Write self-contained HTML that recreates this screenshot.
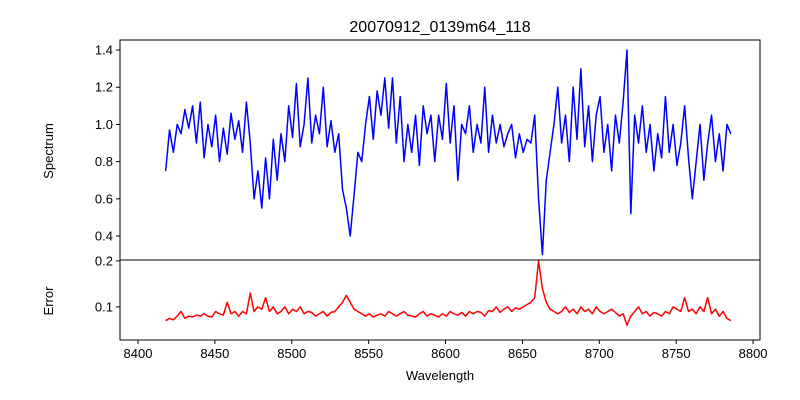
<!DOCTYPE html>
<html><head><meta charset="utf-8"><style>
html,body{margin:0;padding:0;background:#fff}
svg{display:block;font-family:"Liberation Sans","DejaVu Sans",sans-serif}
</style></head><body>
<svg id="chart" width="800" height="400" viewBox="0 0 800 400" xmlns="http://www.w3.org/2000/svg"></svg>
<script>
const wlStart = 8418;
const wlStep = 2.5;
const spectrum = [
0.75,0.97,0.85,1.0,0.95,1.08,0.98,1.1,0.9,1.12,
0.82,1.0,0.88,1.05,0.8,0.98,0.84,1.06,0.92,1.02,
0.85,1.12,0.9,0.6,0.75,0.55,0.82,0.6,0.92,0.7,
0.95,0.8,1.1,0.93,1.22,0.88,1.0,1.25,0.9,1.05,
0.95,1.2,0.88,1.02,0.85,0.95,0.65,0.55,0.4,0.62,
0.85,0.8,1.0,1.15,0.92,1.18,1.05,1.25,0.98,1.25,
0.9,1.15,0.8,1.0,0.85,1.05,0.78,1.1,0.95,1.05,
0.8,1.05,0.92,1.22,0.9,1.1,0.7,1.0,0.95,1.1,
0.85,1.0,0.9,1.2,0.85,1.05,0.9,1.0,0.88,0.95,
1.0,0.82,0.95,0.85,0.92,0.9,1.05,0.6,0.3,0.7,
0.85,1.0,1.2,0.9,1.05,0.8,1.2,0.92,1.3,0.88,
1.1,0.8,1.05,1.15,0.85,1.0,0.75,1.05,0.9,1.12,
1.4,0.52,1.05,0.9,1.1,0.85,1.0,0.75,0.95,0.82,
1.15,0.85,1.0,0.78,0.9,1.1,0.82,0.6,0.8,1.0,
0.7,0.9,1.05,0.8,0.95,0.75,1.0,0.95];
const errors = [
0.07,0.075,0.072,0.08,0.09,0.075,0.08,0.078,0.082,0.08,
0.085,0.08,0.078,0.09,0.085,0.082,0.11,0.085,0.09,0.08,
0.09,0.085,0.13,0.09,0.1,0.095,0.12,0.09,0.1,0.085,
0.09,0.1,0.085,0.095,0.09,0.1,0.085,0.09,0.088,0.08,
0.085,0.09,0.08,0.088,0.09,0.1,0.11,0.125,0.11,0.095,
0.09,0.085,0.08,0.085,0.078,0.082,0.085,0.08,0.09,0.085,
0.08,0.085,0.09,0.082,0.08,0.078,0.085,0.09,0.08,0.085,
0.082,0.078,0.085,0.08,0.09,0.085,0.082,0.088,0.08,0.09,
0.085,0.09,0.088,0.08,0.092,0.09,0.1,0.088,0.095,0.1,
0.09,0.098,0.095,0.1,0.105,0.11,0.12,0.2,0.14,0.11,
0.095,0.09,0.085,0.09,0.1,0.088,0.095,0.085,0.1,0.09,
0.095,0.085,0.1,0.09,0.085,0.09,0.095,0.088,0.08,0.085,
0.06,0.08,0.09,0.1,0.085,0.09,0.08,0.088,0.085,0.08,
0.09,0.085,0.1,0.095,0.09,0.12,0.09,0.095,0.085,0.1,
0.09,0.12,0.085,0.095,0.08,0.09,0.075,0.07];
const xTicks = [8400,8450,8500,8550,8600,8650,8700,8750,8800];
const specTicks = [0.4,0.6,0.8,1.0,1.2,1.4];
const errTicks = [0.1,0.2];

const svg = document.getElementById('chart');
const NS = 'http://www.w3.org/2000/svg';
function mk(tag, attrs, parent){ const e=document.createElementNS(NS,tag); for(const k in attrs) e.setAttribute(k,attrs[k]); (parent||svg).appendChild(e); return e; }
const L=120,R=760,T1=40,B1=260,T2=260,B2=340;
const xmin=8388.3,xmax=8804.5;
const sx = w => L+(w-xmin)/(xmax-xmin)*(R-L);
const s1min=0.271,s1max=1.454;
const sy1 = v => B1-(v-s1min)/(s1max-s1min)*(B1-T1);
const e2min=0.028,e2max=0.202;
const sy2 = v => B2-(v-e2min)/(e2max-e2min)*(B2-T2);

const t=mk('text',{x:440,y:32,'text-anchor':'middle','font-size':16});
t.textContent='20070912_0139m64_118';



function line(data, sy, color, name){
  const pts=data.map((v,i)=>sx(wlStart+wlStep*i).toFixed(2)+','+sy(v).toFixed(2)).join(' ');
  const p=mk('polyline',{points:pts,fill:'none',stroke:color,'stroke-width':1.5,'stroke-linejoin':'round'});
  
  
}
line(spectrum, sy1, '#0000ff', 'spectrum-line');
line(errors, sy2, '#ff0000', 'error-line');

const f1=mk('rect',{x:L,y:T1,width:R-L,height:B1-T1,fill:'none',stroke:'#000','stroke-width':1});


const f2=mk('rect',{x:L,y:T2,width:R-L,height:B2-T2,fill:'none',stroke:'#000','stroke-width':1});



specTicks.forEach(v=>{
  const y=sy1(v);
  mk('line',{x1:L-4,x2:L,y1:y,y2:y,stroke:'#000'});
  const tx=mk('text',{x:L-7,y:y+4.5,'text-anchor':'end','font-size':13});
  tx.textContent=v.toFixed(1);
  
  
});
errTicks.forEach(v=>{
  const y=sy2(v);
  mk('line',{x1:L-4,x2:L,y1:y,y2:y,stroke:'#000'});
  const tx=mk('text',{x:L-7,y:y+4.5,'text-anchor':'end','font-size':13});
  tx.textContent=v.toFixed(1);
  
  
});
xTicks.forEach(v=>{
  const x=sx(v);
  mk('line',{x1:x,x2:x,y1:B2,y2:B2+4,stroke:'#000'});
  const tx=mk('text',{x:x,y:B2+18,'text-anchor':'middle','font-size':13});
  tx.textContent=v;
  
  
});
const xl=mk('text',{x:440,y:380,'text-anchor':'middle','font-size':13});
xl.textContent='Wavelength';


const yl1=mk('text',{x:0,y:0,'text-anchor':'middle','font-size':13,transform:'translate(53,151) rotate(-90)'});
yl1.textContent='Spectrum';


const yl2=mk('text',{x:0,y:0,'text-anchor':'middle','font-size':13,transform:'translate(53,301) rotate(-90)'});
yl2.textContent='Error';


</script>
</body></html>
